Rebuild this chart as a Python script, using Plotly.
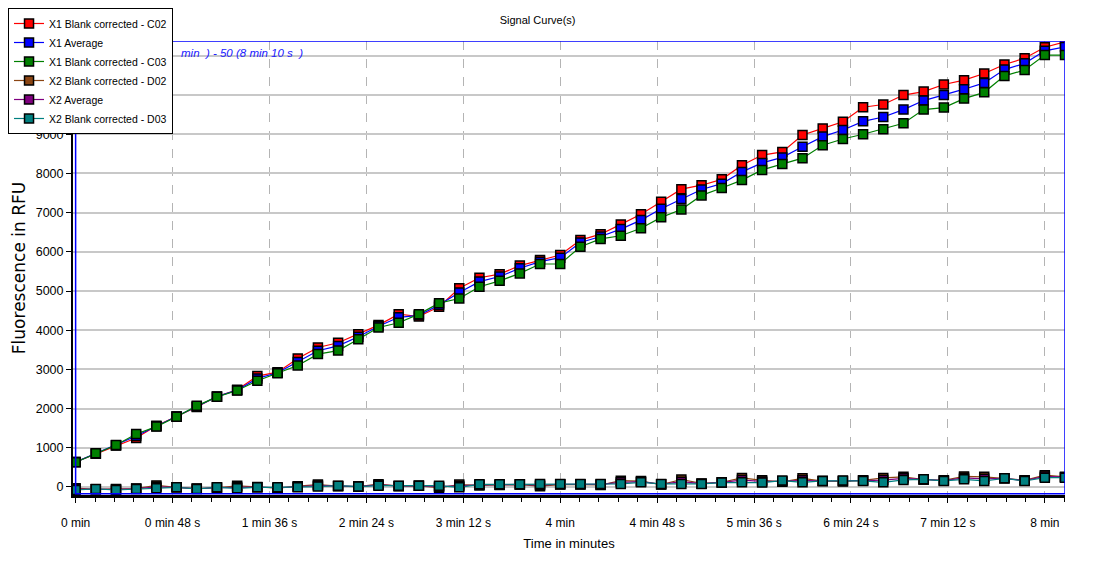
import plotly.graph_objects as go

# time of each read, in seconds (cycles 1..50, 10 s apart)
time_s = [0, 10, 20, 30, 40, 50, 60, 70, 80, 90,
          100, 110, 120, 130, 140, 150, 160, 170, 180, 190,
          200, 210, 220, 230, 240, 250, 260, 270, 280, 290,
          300, 310, 320, 330, 340, 350, 360, 370, 380, 390,
          400, 410, 420, 430, 440, 450, 460, 470, 480, 490]

# X1 wells (RFU)
x1_c02 = [640, 850, 1060, 1250, 1560, 1800, 2040, 2310, 2480, 2830,
          2930, 3280, 3560, 3680, 3900, 4130, 4410, 4350, 4600, 5070,
          5340, 5430, 5650, 5790, 5920, 6300, 6450, 6700, 6960, 7280,
          7600, 7700, 7850, 8210, 8470, 8550, 8980, 9150, 9320, 9690,
          9760, 10000, 10090, 10270, 10380, 10550, 10780, 10940, 11220, 11360]
x1_avg = [635, 855, 1065, 1300, 1550, 1795, 2055, 2305, 2470, 2770,
          2915, 3190, 3475, 3600, 3835, 4100, 4330, 4380, 4645, 4960,
          5240, 5370, 5580, 5750, 5850, 6240, 6390, 6580, 6810, 7100,
          7350, 7590, 7740, 8040, 8270, 8410, 8680, 8940, 9110, 9330,
          9440, 9630, 9860, 10000, 10150, 10310, 10650, 10810, 11130, 11230]
x1_c03 = [630, 860, 1070, 1350, 1540, 1790, 2070, 2300, 2460, 2710,
          2900, 3100, 3390, 3480, 3770, 4070, 4190, 4410, 4690, 4810,
          5110, 5260, 5450, 5690, 5690, 6130, 6330, 6410, 6600, 6880,
          7080, 7440, 7630, 7830, 8090, 8240, 8390, 8720, 8880, 9000,
          9130, 9280, 9630, 9680, 9910, 10070, 10490, 10640, 11020, 11020]

# X2 wells (RFU)
x2_d02 = [-30, -60, -50, -40, 40, -10, -40, -20, 30, 0,
          -30, 20, 60, 20, 10, 70, 20, 30, -20, 60,
          40, 50, 60, 20, 60, 60, 50, 160, 150, 60,
          190, 90, 120, 230, 170, 130, 220, 150, 140, 170,
          230, 260, 190, 170, 270, 260, 220, 170, 300, 260]
x2_avg = [-54, -56, -64, -46, 3, -10, -46, -15, -2, -5,
          -20, 6, 35, 27, 10, 52, 27, 32, 7, 26,
          54, 59, 64, 49, 69, 69, 64, 119, 135, 69,
          134, 84, 116, 175, 141, 146, 170, 152, 151, 162,
          175, 220, 193, 162, 233, 207, 221, 162, 269, 249]
x2_d03 = [-77, -51, -77, -51, -34, -9, -51, -9, -34, -9,
          -9, -9, 9, 34, 9, 34, 34, 34, 34, -9,
          68, 68, 68, 77, 77, 77, 77, 77, 119, 77,
          77, 77, 111, 119, 111, 162, 119, 153, 162, 153,
          119, 179, 196, 153, 196, 153, 221, 153, 238, 238]

series = [
    ("X1 Blank corrected - C02", x1_c02, "#ff0000"),
    ("X1 Average", x1_avg, "#0000ff"),
    ("X1 Blank corrected - C03", x1_c03, "#008000"),
    ("X2 Blank corrected - D02", x2_d02, "#8b4513"),
    ("X2 Average", x2_avg, "#800080"),
    ("X2 Blank corrected - D03", x2_d03, "#008080"),
]

tick_vals = [0, 48, 96, 144, 192, 240, 288, 336, 384, 432, 480]
tick_text = ["0 min", "0 min 48 s", "1 min 36 s", "2 min 24 s", "3 min 12 s",
             "4 min", "4 min 48 s", "5 min 36 s", "6 min 24 s", "7 min 12 s", "8 min"]
y_vals = [0, 1000, 2000, 3000, 4000, 5000, 6000, 7000, 8000, 9000, 10000, 11000]
# the two top labels sit under the legend box in the original
y_text = ["0", "1000", "2000", "3000", "4000", "5000", "6000", "7000", "8000", "9000", "", ""]

FONT = "Liberation Sans, Arial, sans-serif"

fig = go.Figure()

for name, vals, color in series:
    fig.add_trace(
        go.Scatter(
            x=time_s,
            y=vals,
            name=name,
            mode="lines+markers",
            line=dict(color=color, width=1.2),
            marker=dict(symbol="square", size=9, color=color,
                        line=dict(color="black", width=1.5)),
        )
    )

# blue selection box drawn by the reader software
fig.add_shape(type="rect", xref="x", yref="y", x0=0, x1=490, y0=-170, y1=11380,
              line=dict(color="#0000ff", width=1.5), layer="above")

fig.add_annotation(
    text="<i>min  ) - 50 (8 min 10 s  )</i>",
    xref="paper", yref="paper", x=0.107, y=0.9736,
    xanchor="left", yanchor="middle", showarrow=False,
    font=dict(family=FONT, size=11.5, color="#2020ff"),
)

# page body keeps an 8px margin, so the figure is 8px smaller than the window
fig.update_layout(
    width=1108,
    height=554,
    margin=dict(l=65, r=51, t=33, b=67, autoexpand=False),
    paper_bgcolor="white",
    plot_bgcolor="white",
    font=dict(family=FONT, size=12, color="black"),
    title=dict(text="Signal Curve(s)", x=0.478, xanchor="center",
               y=0.978, yanchor="middle", font=dict(family=FONT, size=11)),
    legend=dict(
        x=-0.0655, y=1.0727, xanchor="left", yanchor="top",
        bgcolor="white", bordercolor="black", borderwidth=1,
        font=dict(family=FONT, size=10.5), tracegroupgap=0, itemwidth=30,
    ),
    showlegend=True,
)

fig.update_xaxes(
    range=[-1.3, 490],
    tickmode="array", tickvals=tick_vals, ticktext=tick_text,
    ticks="outside", ticklen=5, tickcolor="black",
    tickfont=dict(family=FONT, size=12), ticklabelstandoff=10,
    showline=True, linecolor="black", linewidth=3,
    showgrid=True, gridcolor="#b4b4b4", griddash="dash", gridwidth=1,
    zeroline=False, automargin=False,
    minor=dict(tickmode="linear", tick0=0, dtick=9.6, ticks="outside",
               ticklen=4, tickcolor="black", showgrid=False),
    title=dict(text="Time in minutes", standoff=10,
               font=dict(family=FONT, size=13)),
)

fig.update_yaxes(
    range=[-205, 11380],
    tickmode="array", tickvals=y_vals, ticktext=y_text,
    ticks="outside", ticklen=5, tickcolor="black",
    tickfont=dict(family=FONT, size=12.5),
    showline=True, linecolor="black", linewidth=2,
    showgrid=True, gridcolor="#c8c8c8", gridwidth=1.5,
    zeroline=False, automargin=False,
    title=dict(text="Fluorescence in RFU", standoff=6,
               font=dict(family="DejaVu Sans", size=17)),
)

fig.write_html("out.html")
